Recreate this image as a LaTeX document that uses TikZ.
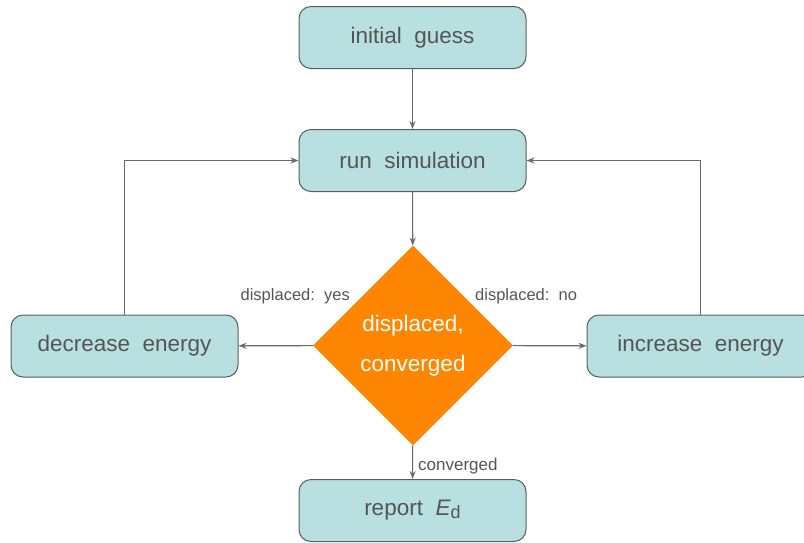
\documentclass[tikz,border=0pt]{standalone}
\usepackage{fontspec}
\setmainfont{Liberation Sans}
\usetikzlibrary{shapes.geometric,arrows.meta}
\definecolor{boxfill}{HTML}{B8E0E0}
\definecolor{boxline}{HTML}{5C5C5C}
\definecolor{txt}{HTML}{555555}
\definecolor{conn}{HTML}{6A6A6A}
\definecolor{dia}{HTML}{FF8600}
\begin{document}
\begin{tikzpicture}[x=1pt,y=-1pt,
  stepbox/.style={draw=boxline, line width=1pt, fill=boxfill, rounded corners=12pt,
    minimum width=227pt, minimum height=62pt, inner sep=0pt,
    text=txt, font=\fontsize{22.5}{26}\selectfont},
  decision/.style={diamond, fill=dia, minimum width=200pt, minimum height=200pt,
    inner sep=0pt, text=white, align=center, font=\fontsize{22.5}{40}\selectfont},
  lbl/.style={text=txt, font=\fontsize{16.5}{20}\selectfont, inner sep=0pt},
  conn/.style={draw=conn, line width=1.1pt, -{Stealth[length=8pt,width=6pt]}}]
\useasboundingbox (0,0) rectangle (804,542);
\node[stepbox] (init) at (412.5,37.5) {initial\ \ guess};
\node[stepbox] (run) at (412.5,160.5) {run\ \ simulation};
\node[decision] (dec) at (413,345.5) {displaced,\\converged};
\node[stepbox] (decr) at (124.5,346) {decrease\ \ energy};
\node[stepbox] (incr) at (700.5,346) {increase\ \ energy};
\node[stepbox] (rep) at (412.5,510.5) {report\ \ \textit{E}{\fontsize{18}{20}\selectfont\raisebox{-3pt}{d}}};
\draw[conn] (init) -- (run);
\draw[conn] (run) -- (dec);
\draw[conn] (dec) -- (decr);
\draw[conn] (dec) -- (incr);
\draw[conn] (dec) -- (rep);
\draw[conn] (decr.north) |- (run.west);
\draw[conn] (incr.north) |- (run.east);
\node[lbl, anchor=east] (ly) at (350,296) {displaced:\ \ yes};
\node[lbl, anchor=west] (ln) at (475,296) {displaced:\ \ no};
\node[lbl, anchor=west, font=\fontsize{17}{20}\selectfont] (lc) at (418,466) {converged};
\end{tikzpicture}
\end{document}
